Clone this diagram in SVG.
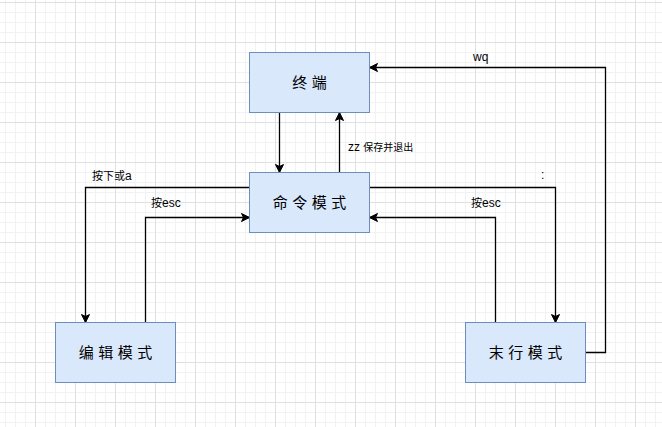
<svg xmlns="http://www.w3.org/2000/svg" width="662" height="427" viewBox="0 0 662 427">
  <defs>
    <pattern id="grid" x="35" y="2" width="40" height="40" patternUnits="userSpaceOnUse">
      <path d="M10.5,0 V40 M20.5,0 V40 M30.5,0 V40 M0,10.5 H40 M0,20.5 H40 M0,30.5 H40" stroke="#f2f2f2" stroke-width="1" fill="none"/>
      <path d="M0.5,0 V40 M0,0.5 H40" stroke="#e0e0e0" stroke-width="1" fill="none"/>
    </pattern>
    <marker id="arrow" markerUnits="userSpaceOnUse" markerWidth="10" markerHeight="10" viewBox="0 0 10 10" refX="9" refY="5" orient="auto">
      <path d="M1,1 L9,5 L1,9 L3,5 Z" fill="#000000" stroke="#000000" stroke-width="1" stroke-linejoin="miter"/>
    </marker>
    <style>
      .node rect { fill: #dae8fc; stroke: #6c8ebf; stroke-width: 1; }
      .node text { font-family: "Noto Sans CJK SC", "Noto Sans", sans-serif; font-size: 15px; letter-spacing: 4.5px; fill: #000000; text-anchor: middle; }
      .edge { fill: none; stroke: #000000; stroke-width: 1.3; marker-end: url(#arrow); }
      .label { font-family: "Liberation Sans", "Noto Sans CJK SC", sans-serif; font-size: 12px; fill: #000000; }
      .cjk { font-family: "Noto Sans CJK SC", sans-serif; font-size: 11px; }
      .cjk10 { font-family: "Noto Sans CJK SC", sans-serif; font-size: 10px; }
    </style>
  </defs>
  <rect x="0" y="0" width="662" height="427" fill="#ffffff"/>
  <rect x="0" y="0" width="662" height="427" fill="url(#grid)"/>

  <g id="connectors">
    <path class="edge" d="M279.5,112.5 V172.5"/>
    <path class="edge" d="M339.5,172.5 V112.5"/>
    <path class="edge" d="M585.5,352.5 H605.5 V67.5 H369.5"/>
    <path class="edge" d="M249.5,187.5 H85.5 V322.5"/>
    <path class="edge" d="M145.5,322.5 V217.5 H249.5"/>
    <path class="edge" d="M369.5,187.5 H555.5 V322.5"/>
    <path class="edge" d="M495.5,322.5 V217.5 H369.5"/>
  </g>

  <g id="labels">
    <text class="label" x="348" y="150.5">zz <tspan class="cjk10">保存并退出</tspan></text>
    <text class="label" x="473" y="60.5">wq</text>
    <text class="label" x="92" y="179.5"><tspan class="cjk">按下或</tspan>a</text>
    <text class="label" x="151" y="207"><tspan class="cjk">按</tspan>esc</text>
    <text class="label" x="471" y="207"><tspan class="cjk">按</tspan>esc</text>
    <text class="label" x="541" y="179">:</text>
  </g>

  <g id="node-terminal" class="node">
    <rect x="249.5" y="52.5" width="120" height="60"/>
    <text x="311.75" y="88">终端</text>
  </g>
  <g id="node-command" class="node">
    <rect x="249.5" y="172.5" width="120" height="60"/>
    <text x="311.75" y="208">命令模式</text>
  </g>
  <g id="node-edit" class="node">
    <rect x="55.5" y="322.5" width="120" height="60"/>
    <text x="117.75" y="358">编辑模式</text>
  </g>
  <g id="node-lastline" class="node">
    <rect x="465.5" y="322.5" width="120" height="60"/>
    <text x="527.75" y="358">末行模式</text>
  </g>
</svg>
